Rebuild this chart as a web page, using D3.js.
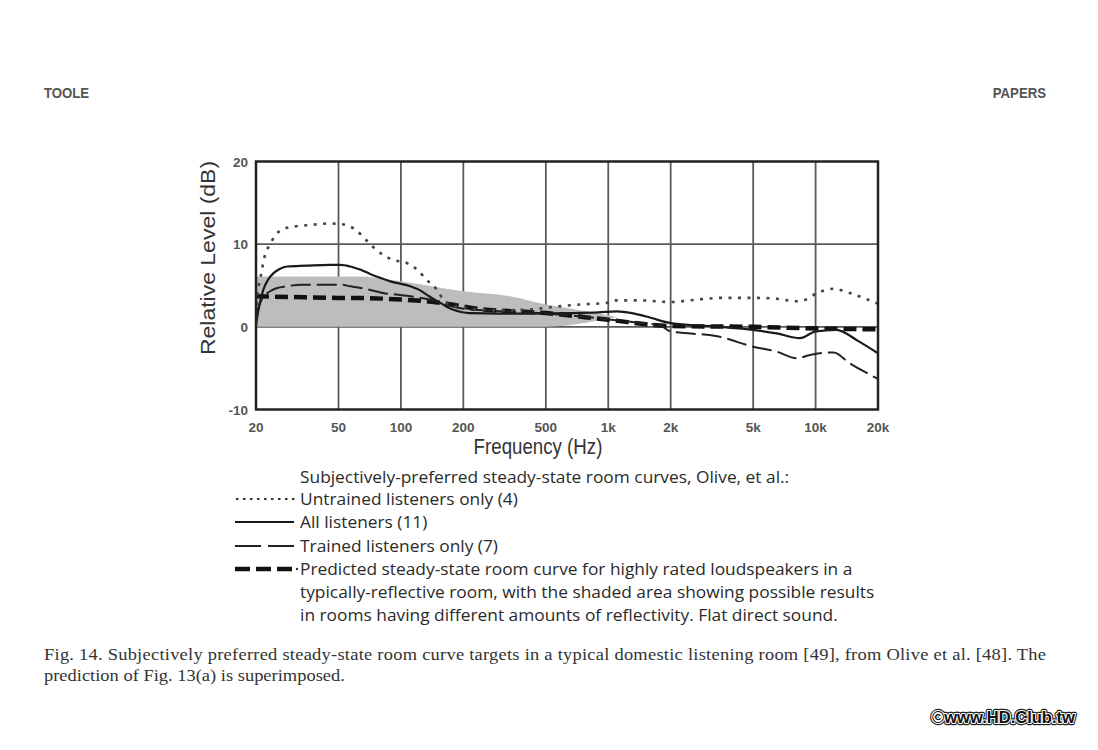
<!DOCTYPE html>
<html><head><meta charset="utf-8">
<script src="https://cdn.jsdelivr.net/npm/d3@7"></script>
<style>body{margin:0;background:#fff}svg{display:block}</style>
</head><body>
<svg id="c" width="1098" height="750"></svg>
<script>
// ---------- data ----------
const xTicks = [20, 50, 100, 200, 500, 1000, 2000, 5000, 10000, 20000];
const xTickLabels = ["20", "50", "100", "200", "500", "1k", "2k", "5k", "10k", "20k"];
const yTicks = [-10, 0, 10, 20];
const yTickLabels = ["-10", "0", "10", "20"];

const untrainedFreq = [20, 20.5, 21, 22, 23.4, 25, 27, 30, 36, 45, 52, 60, 68, 76, 92, 107, 120, 133, 149, 160, 175, 200, 300, 420, 566, 730, 980, 1050, 1420, 2000, 2700, 3500, 5000, 6500, 8100, 9000, 10000, 11000, 12200, 14600, 17000, 20000];
const untrainedDb = [1.5, 4.5, 5.9, 8.5, 10.0, 11.2, 11.8, 12.1, 12.3, 12.5, 12.4, 11.8, 10.5, 9.3, 8.1, 7.7, 6.9, 5.7, 4.5, 3.3, 2.6, 2.3, 2.0, 2.1, 2.46, 2.7, 2.9, 3.2, 3.2, 3.0, 3.3, 3.5, 3.5, 3.4, 3.1, 3.3, 4.0, 4.4, 4.6, 4.1, 3.5, 2.8];

const allFreq = [20, 20.7, 21.7, 23, 24.3, 26, 28.3, 35, 45, 51, 57, 64, 71, 80, 89, 100, 111, 122, 133, 145, 155, 167, 179, 195, 215, 300, 420, 680, 900, 1100, 1300, 1600, 2000, 3300, 5000, 6500, 8400, 10000, 12600, 16000, 20000];
const allDb = [0.2, 2.5, 4.5, 5.8, 6.5, 7.0, 7.3, 7.4, 7.5, 7.5, 7.3, 6.9, 6.4, 5.9, 5.5, 5.2, 4.9, 4.5, 3.9, 3.3, 2.9, 2.4, 2.06, 1.8, 1.66, 1.6, 1.6, 1.66, 1.75, 1.86, 1.66, 1.1, 0.45, 0.04, -0.36, -0.8, -1.37, -0.56, -0.36, -1.7, -3.2];

const trainedFreq = [20, 20.7, 21.5, 23.4, 25.3, 28, 33, 45, 51, 57, 64, 73, 82, 95, 111, 125, 138, 155, 175, 200, 300, 500, 700, 1000, 1400, 1800, 2000, 2500, 3300, 5000, 6500, 8100, 9400, 12200, 14600, 20000];
const trainedDb = [1.2, 2.5, 3.5, 4.3, 4.7, 4.9, 5.1, 5.1, 5.1, 4.9, 4.7, 4.4, 4.1, 3.9, 3.7, 3.5, 3.3, 2.9, 2.5, 2.2, 1.9, 1.6, 1.3, 0.9, 0.5, 0.1, -0.56, -0.8, -1.1, -2.4, -3.0, -3.8, -3.4, -3.1, -4.4, -6.3];

const predictedFreq = [20, 30, 50, 57, 100, 160, 200, 250, 336, 500, 1000, 2000, 5000, 10000, 20000];
const predictedDb = [3.7, 3.6, 3.5, 3.5, 3.3, 2.87, 2.46, 2.1, 1.9, 1.66, 0.85, 0.1, 0.0, -0.2, -0.3];

const shadeFreq = [20, 64, 100, 200, 336, 500, 700, 900, 1100];
const shadeUpper = [6.1, 6.1, 5.5, 4.3, 3.7, 2.7, 2.1, 1.6, 1.2];
const shadeLower = [0, 0, 0, 0, 0, 0, 0.3, 0.8, 1.2];

const legendTitle = "Subjectively-preferred steady-state room curves, Olive, et al.:";
const legendItems = ["Untrained listeners only (4)", "All listeners (11)", "Trained listeners only (7)",
  "Predicted steady-state room curve for highly rated loudspeakers in a",
  "typically-reflective room, with the shaded area showing possible results",
  "in rooms having different amounts of reflectivity.  Flat direct sound."];
const captionLines = ["Fig. 14.  Subjectively preferred steady-state room curve targets in a typical domestic listening room [49], from Olive et al. [48]. The",
  "prediction of Fig. 13(a) is superimposed."];

// ---------- layout ----------
const svg = d3.select("#c");
const L = 256, R = 878, T = 161.5, B = 409.5;
const x = d3.scaleLog().domain([20, 20000]).range([L, R]);
const y = d3.scaleLinear().domain([-10, 20]).range([B, T]);
const SX = 0.85;

// header
const hdr = (t, xx, anchor) => svg.append("text").attr("transform", `translate(${xx},98) scale(0.88,1)`)
  .attr("text-anchor", anchor).attr("font-family", "Liberation Sans, Arial, sans-serif")
  .attr("font-size", 15).attr("font-weight", "bold").attr("fill", "#555").text(t);
hdr("TOOLE", 44, "start");
hdr("PAPERS", 1046, "end");

// grid
const g = svg.append("g");
g.selectAll(".vg").data(xTicks.slice(1, -1)).join("line")
  .attr("x1", d => x(d)).attr("x2", d => x(d)).attr("y1", T).attr("y2", B)
  .attr("stroke", "#5a5a5a").attr("stroke-width", 1.8);
g.selectAll(".hg").data([0, 10]).join("line")
  .attr("x1", L).attr("x2", R).attr("y1", d => y(d)).attr("y2", d => y(d))
  .attr("stroke", "#5a5a5a").attr("stroke-width", 1.8);

// shaded area
const shade = shadeFreq.map((f, i) => ({ f, lo: shadeLower[i], hi: shadeUpper[i] }));
g.append("path").datum(shade)
  .attr("d", d3.area().x(d => x(d.f)).y0(d => y(d.lo)).y1(d => y(d.hi)).curve(d3.curveMonotoneX))
  .attr("fill", "#bdbdbd");

// curves
const line = d3.line().x(d => x(d[0])).y(d => y(d[1])).curve(d3.curveMonotoneX);
const zip = (a, b) => a.map((v, i) => [v, b[i]]);
svg.append("clipPath").attr("id", "pc").append("rect")
  .attr("x", L).attr("y", T).attr("width", R - L).attr("height", B - T);
const cg = svg.append("g").attr("clip-path", "url(#pc)");
cg.append("path").attr("d", line(zip(predictedFreq, predictedDb))).attr("fill", "none")
  .attr("stroke", "#111").attr("stroke-width", 4.5).attr("stroke-dasharray", "13,6");
cg.append("path").attr("d", line(zip(trainedFreq, trainedDb))).attr("fill", "none")
  .attr("stroke", "#222").attr("stroke-width", 2).attr("stroke-dasharray", "20,6");
cg.append("path").attr("d", line(zip(allFreq, allDb))).attr("fill", "none")
  .attr("stroke", "#1a1a1a").attr("stroke-width", 2.2);
cg.append("path").attr("d", line(zip(untrainedFreq, untrainedDb))).attr("fill", "none")
  .attr("stroke", "#444").attr("stroke-width", 2.6).attr("stroke-dasharray", "3,6.5");

// frame
svg.append("rect").attr("x", L).attr("y", T).attr("width", R - L).attr("height", B - T)
  .attr("fill", "none").attr("stroke", "#222").attr("stroke-width", 2.5);

// tick labels
const tf = "Liberation Sans, Arial, sans-serif";
svg.selectAll(".xl").data(xTicks).join("text")
  .attr("transform", d => `translate(${x(d)},432)`)
  .attr("text-anchor", "middle").attr("font-family", tf).attr("font-size", 13.5).attr("font-weight", "bold").attr("fill", "#555")
  .text((d, i) => xTickLabels[i]);
svg.selectAll(".yl").data(yTicks).join("text")
  .attr("transform", d => `translate(248,${y(d) + 5})`)
  .attr("text-anchor", "end").attr("font-family", tf).attr("font-size", 13.5).attr("font-weight", "bold").attr("fill", "#555")
  .text((d, i) => yTickLabels[i]);

// axis titles
svg.append("text").attr("transform", `translate(538,454) scale(${SX},1)`)
  .attr("text-anchor", "middle").attr("font-family", tf).attr("font-size", 22).attr("fill", "#333")
  .text("Frequency (Hz)");
svg.append("text").attr("transform", `translate(215,258) scale(${SX},1) rotate(-90)`)
  .attr("text-anchor", "middle").attr("font-family", tf).attr("font-size", 23).attr("fill", "#333")
  .text("Relative Level (dB)");

// legend
const lf = "Open Sans, sans-serif";
const lg = svg.append("g");
const lines = [legendTitle].concat(legendItems);
const baselines = [483, 505, 528, 552, 575, 598, 621];
const tmp = lg.append("text").attr("font-family", lf).attr("font-size", 17).text(legendItems[4]);
const ls = 575 / tmp.node().getComputedTextLength();
tmp.remove();
lines.forEach((t, i) => {
  lg.append("text").attr("transform", `translate(300,${baselines[i]}) scale(${ls},1)`)
    .attr("font-family", lf).attr("font-size", 17).attr("fill", "#2a2a2a").text(t);
});
const sy = i => baselines[i] - 6;
lg.append("line").attr("x1", 236).attr("x2", 297).attr("y1", sy(1)).attr("y2", sy(1))
  .attr("stroke", "#333").attr("stroke-width", 2.2).attr("stroke-dasharray", "2.5,4.5");
lg.append("line").attr("x1", 235).attr("x2", 294).attr("y1", sy(2)).attr("y2", sy(2))
  .attr("stroke", "#1a1a1a").attr("stroke-width", 2);
lg.append("line").attr("x1", 235).attr("x2", 294).attr("y1", sy(3)).attr("y2", sy(3))
  .attr("stroke", "#222").attr("stroke-width", 2).attr("stroke-dasharray", "26,7");
lg.append("line").attr("x1", 235).attr("x2", 292).attr("y1", sy(4)).attr("y2", sy(4))
  .attr("stroke", "#111").attr("stroke-width", 4.5).attr("stroke-dasharray", "15,6");
lg.append("circle").attr("cx", 297).attr("cy", sy(4)).attr("r", 1.2).attr("fill", "#333");

// caption
const cf = "Liberation Serif, Times New Roman, serif";
const tmp2 = svg.append("text").attr("font-family", cf).attr("font-size", 16.5).text(captionLines[1]);
const cs = 301 / tmp2.node().getComputedTextLength();
tmp2.remove();
svg.append("text").attr("transform", `translate(44,660) scale(${cs},1)`)
  .attr("font-family", cf).attr("font-size", 16.5).attr("fill", "#333")
  .attr("textLength", 1002 / cs).attr("lengthAdjust", "spacing").text(captionLines[0]);
svg.append("text").attr("transform", `translate(44,681) scale(${cs},1)`)
  .attr("font-family", cf).attr("font-size", 16.5).attr("fill", "#333").text(captionLines[1]);

// watermark
const wm = svg.append("g").attr("font-family", "Liberation Sans, Arial, sans-serif").attr("font-weight", "bold")
  .attr("font-size", 17);
const tmp3 = wm.append("text").text("©www.HD.Club.tw");
const ws = 143 / tmp3.node().getComputedTextLength();
tmp3.remove();
const wt = `translate(932,723) scale(${ws},1)`;
wm.append("text").attr("transform", wt).attr("stroke", "#222").attr("stroke-width", 4.5).attr("fill", "none").attr("stroke-linejoin", "round").text("©www.HD.Club.tw");
wm.append("text").attr("transform", wt).attr("stroke", "#fff").attr("stroke-width", 2.2).attr("fill", "#fff").attr("stroke-linejoin", "round").text("©www.HD.Club.tw");
wm.append("text").attr("transform", wt).attr("fill", "#111").text("©www.HD.Club.tw");
</script>
</body></html>
